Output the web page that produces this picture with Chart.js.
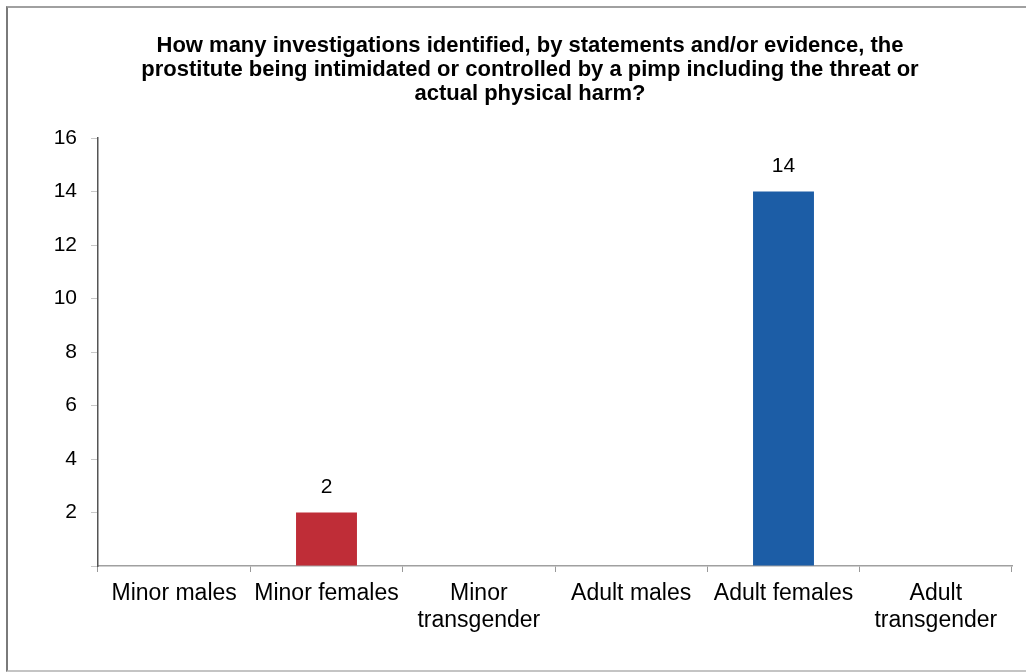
<!DOCTYPE html>
<html>
<head>
<meta charset="utf-8">
<script src="https://cdn.jsdelivr.net/npm/chart.js@4/dist/chart.umd.min.js"></script>
<style>
  html, body { margin: 0; padding: 0; background: #fff; }
  #wrap { position: relative; width: 1026px; height: 672px; overflow: hidden; }
  #frame { position: absolute; left: 6px; top: 6px; width: 1060px; height: 662px;
           border-left: 2px solid #7a7a7a; border-top: 2px solid #a0a0a0; border-bottom: 2px solid #c4c4c4; pointer-events: none; }
  canvas { position: absolute; left: 0; top: 0; }
</style>
</head>
<body>
<div id="wrap">
  <canvas id="c" width="1026" height="672"></canvas>
  <div id="frame"></div>
</div>
<script>
const titleLines = [
  "How many investigations identified, by statements and/or evidence, the",
  "prostitute being intimidated or controlled by a pimp including the threat or",
  "actual physical harm?"
];
const categories = [
  "Minor males",
  "Minor females",
  ["Minor", "transgender"],
  "Adult males",
  "Adult females",
  ["Adult", "transgender"]
];
const values = [0, 2, 0, 0, 14, 0];
const barColors = ["#bf2d37", "#bf2d37", "#bf2d37", "#1c5da6", "#1c5da6", "#1c5da6"];
const yTicks = [0, 2, 4, 6, 8, 10, 12, 14, 16];

const valueLabels = {
  id: 'valueLabels',
  afterDatasetsDraw(chart) {
    const ctx = chart.ctx;
    const meta = chart.getDatasetMeta(0);
    ctx.save();
    ctx.font = '21px "Liberation Sans", Arial, sans-serif';
    ctx.fillStyle = '#000';
    ctx.textAlign = 'center';
    ctx.textBaseline = 'middle';
    meta.data.forEach((bar, i) => {
      const v = values[i];
      if (v > 0) ctx.fillText(String(v), bar.x, bar.y - 25);
    });
    ctx.restore();
  }
};

const titleDraw = {
  id: 'titleDraw',
  afterDraw(chart) {
    const ctx = chart.ctx;
    ctx.save();
    ctx.font = 'bold 22px "Liberation Sans", Arial, sans-serif';
    ctx.fillStyle = '#000';
    ctx.textAlign = 'center';
    ctx.textBaseline = 'middle';
    titleLines.forEach((line, i) => ctx.fillText(line, 530, 46 + i * 24));
    ctx.restore();
  }
};

new Chart(document.getElementById('c'), {
  type: 'bar',
  data: {
    labels: categories,
    datasets: [{
      data: values,
      backgroundColor: barColors,
      borderWidth: 0,
      barPercentage: 0.8,
      categoryPercentage: 0.5
    }]
  },
  options: {
    responsive: false,
    animation: false,
    layout: { padding: { left: 0, right: 14, top: 138, bottom: 0 } },
    plugins: {
      legend: { display: false },
      tooltip: { enabled: false },
      title: { display: false }
    },
    scales: {
      x: {
        grid: { display: true, drawOnChartArea: false, offset: true, tickLength: 6, color: '#999', lineWidth: 1 },
        border: { display: true, color: '#a0a0a0', width: 1.5 },
        ticks: {
          color: '#000',
          font: { family: '"Liberation Sans", Arial, sans-serif', size: 23, lineHeight: 27 / 23 },
          padding: 8,
          maxRotation: 0,
          autoSkip: false
        },
        afterFit(scale) { scale.height = 106; }
      },
      y: {
        min: 0,
        max: 16,
        afterBuildTicks(scale) { scale.ticks = yTicks.map(v => ({ value: v })); },
        grid: { display: true, drawOnChartArea: false, tickLength: 7, color: '#c8c8c8', lineWidth: 1 },
        border: { display: true, color: '#555', width: 1.5 },
        ticks: {
          color: '#000',
          font: { family: '"Liberation Sans", Arial, sans-serif', size: 21 },
          padding: 14,
          callback: (v) => (v === 0 ? '' : String(v))
        },
        afterFit(scale) { scale.width = 98; }
      }
    }
  },
  plugins: [valueLabels, titleDraw]
});
</script>
</body>
</html>
